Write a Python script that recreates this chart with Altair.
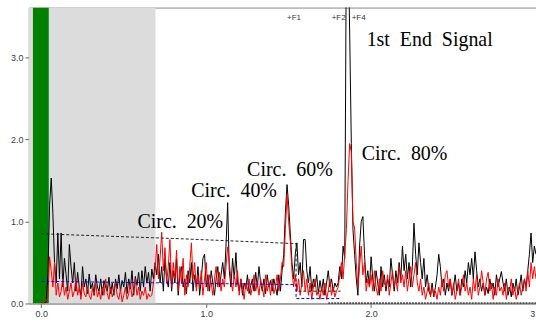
import altair as alt
import pandas as pd

# sample grid (time axis, 0.00 .. 3.00 step 0.01)
x_start = 0.0
x_step = 0.01

black_signal = [
    0.01, 0.01, 0.01, 0.02, 0.35, 1.20, 1.53, 1.10, 0.50, 0.25,
    0.86, 0.30, 0.86, 0.20, 0.55, 0.35, 0.15, 0.72, 0.45, 0.25,
    0.50, 0.15, 0.38, 0.20, 0.10, 0.45, 0.20, 0.30, 0.12, 0.36,
    0.18, 0.25, 0.10, 0.35, 0.20, 0.15, 0.30, 0.10, 0.28, 0.20,
    0.15, 0.32, 0.12, 0.25, 0.10, 0.30, 0.18, 0.35, 0.15, 0.28,
    0.20, 0.38, 0.12, 0.30, 0.18, 0.40, 0.10, 0.33, 0.22, 0.38,
    0.15, 0.40, 0.20, 0.45, 0.25, 0.38, 0.15, 0.42, 0.30, 0.50,
    0.35, 0.60, 0.25, 0.45, 0.15, 0.55, 0.30, 0.20, 0.50, 0.15,
    0.40, 0.25, 0.55, 0.10, 0.35, 0.45, 0.20, 0.30, 0.12, 0.40,
    0.25, 0.50, 0.15, 0.35, 0.20, 0.45, 0.10, 0.30, 0.55, 0.60,
    0.20, 0.35, 0.15, 0.40, 0.25, 0.10, 0.30, 0.45, 0.20, 0.35,
    0.50, 0.30, 0.70, 1.23, 0.40, 0.20, 0.55, 0.30, 0.62, 0.25,
    0.15, 0.30, 0.10, 0.25, 0.18, 0.35, 0.12, 0.22, 0.30, 0.15,
    0.38, 0.20, 0.45, 0.25, 0.15, 0.30, 0.12, 0.35, 0.20, 0.28,
    0.15, 0.30, 0.20, 0.10, 0.35, 0.15, 0.40, 0.60, 1.10, 1.45,
    1.20, 0.85, 0.50, 0.30, 0.60, 0.74, 0.35, 0.50, 0.20, 0.78,
    0.78, 0.40, 0.25, 0.45, 0.15, 0.30, 0.20, 0.35, 0.12, 0.28,
    0.15, 0.30, 0.10, 0.25, 0.40, 0.20, 0.30, 0.15, 0.25, 0.20,
    0.25, 0.45, 0.30, 0.70, 0.55, 4.50, 4.50, 3.30, 1.95, 0.90,
    0.60, 0.30, 0.10, 0.70, 1.00, 1.06, 0.60, 0.25, 0.40, 0.20,
    0.57, 0.30, 0.15, 0.40, 0.25, 0.10, 0.45, 0.20, 0.35, 0.15,
    0.30, 0.20, 0.55, 0.35, 0.15, 0.40, 0.25, 0.50, 0.30, 0.70,
    0.40, 0.60, 0.30, 0.50, 0.20, 0.45, 0.98, 0.60, 0.35, 0.74,
    0.50, 0.30, 0.55, 0.20, 0.35, 0.15, 0.10, 0.25, 0.08, 0.20,
    0.35, 0.60, 0.45, 0.20, 0.30, 0.10, 0.25, 0.15, 0.30, 0.10,
    0.20, 0.35, 0.15, 0.25, 0.10, 0.30, 0.20, 0.40, 0.25, 0.50,
    0.35, 0.55, 0.30, 0.63, 0.40, 0.20, 0.30, 0.15, 0.25, 0.10,
    0.20, 0.12, 0.30, 0.18, 0.25, 0.10, 0.35, 0.20, 0.30, 0.39,
    0.25, 0.15, 0.30, 0.10, 0.20, 0.08, 0.25, 0.15, 0.30, 0.10,
    0.20, 0.35, 0.15, 0.30, 0.20, 0.40, 0.60, 0.86, 0.50, 0.70,
    0.60,
]

red_signal = [
    0.02, 0.01, 0.02, 0.03, 0.08, 0.57, 0.40, 0.20, 0.50, 0.10,
    0.25, 0.08, 0.15, 0.30, 0.10, 0.20, 0.05, 0.15, 0.25, 0.08,
    0.15, 0.30, 0.10, 0.20, 0.05, 0.25, 0.12, 0.08, 0.20, 0.10,
    0.05, 0.18, 0.10, 0.25, 0.08, 0.15, 0.05, 0.20, 0.10, 0.30,
    0.12, 0.05, 0.20, 0.08, 0.15, 0.25, 0.10, 0.05, 0.18, 0.02,
    0.10, 0.20, 0.05, 0.12, 0.25, 0.08, 0.15, 0.30, 0.10, 0.20,
    0.05, 0.15, 0.10, 0.20, 0.05, 0.12, 0.08, 0.10, 0.25, 0.40,
    0.72, 0.30, 0.55, 0.87, 0.40, 0.68, 0.25, 0.45, 0.78, 0.20,
    0.50, 0.30, 0.65, 0.15, 0.45, 0.25, 0.55, 0.10, 0.35, 0.20,
    0.45, 0.74, 0.30, 0.50, 0.15, 0.35, 0.20, 0.40, 0.10, 0.30,
    0.50, 0.15, 0.35, 0.25, 0.10, 0.30, 0.45, 0.20, 0.38, 0.15,
    0.30, 0.20, 0.45, 0.69, 0.50, 0.30, 0.15, 0.35, 0.20, 0.40,
    0.10, 0.30, 0.20, 0.05, 0.25, 0.15, 0.30, 0.10, 0.20, 0.35,
    0.15, 0.25, 0.10, 0.30, 0.20, 0.08, 0.35, 0.15, 0.25, 0.10,
    0.30, 0.12, 0.20, 0.35, 0.15, 0.30, 0.50, 0.45, 0.90, 1.33,
    1.00, 0.75, 0.40, 0.20, 0.35, 0.15, 0.30, 0.10, 0.25, 0.40,
    0.15, 0.30, 0.10, 0.25, 0.05, 0.20, 0.30, 0.10, 0.15, 0.05,
    0.20, 0.10, 0.25, 0.05, 0.15, 0.30, 0.10, 0.20, 0.08, 0.15,
    0.20, 0.35, 0.50, 0.30, 0.60, 0.90, 1.50, 1.95, 1.85, 1.00,
    0.92, 0.50, 0.20, 0.45, 0.70, 0.35, 0.50, 0.15, 0.30, 0.20,
    0.35, 0.15, 0.40, 0.20, 0.10, 0.30, 0.15, 0.40, 0.25, 0.20,
    0.35, 0.10, 0.25, 0.40, 0.20, 0.30, 0.15, 0.45, 0.25, 0.35,
    0.20, 0.40, 0.15, 0.30, 0.45, 0.20, 0.35, 0.50, 0.25, 0.15,
    0.30, 0.10, 0.20, 0.05, 0.15, 0.25, 0.08, 0.20, 0.10, 0.15,
    0.05, 0.20, 0.10, 0.30, 0.15, 0.35, 0.40, 0.20, 0.30, 0.10,
    0.25, 0.05, 0.15, 0.30, 0.10, 0.20, 0.35, 0.15, 0.25, 0.10,
    0.20, 0.05, 0.30, 0.15, 0.35, 0.10, 0.20, 0.40, 0.25, 0.10,
    0.30, 0.38, 0.15, 0.25, 0.05, 0.20, 0.10, 0.30, 0.15, 0.20,
    0.10, 0.25, 0.05, 0.20, 0.15, 0.30, 0.10, 0.20, 0.05, 0.15,
    0.25, 0.10, 0.20, 0.30, 0.15, 0.40, 0.20, 0.50, 0.30, 0.45,
    0.30,
]

# threshold / gate curves
upper_gate_x = [0.0, 0.84, 1.545]
upper_gate_y = [0.85, 0.79, 0.73]
lower_gate_x = [1.545, 1.545, 1.815]
lower_gate_y = [0.73, 0.15, 0.15]
blue_gate_x = [0.0, 1.545, 1.545, 1.815]
blue_gate_y = [0.27, 0.23, 0.06, 0.06]
floor_gate_x = [1.74, 3.0]
floor_gate_y = [0.0, 0.0]

# shaded regions
green_x = [-0.051, 0.045]
gray_x = [-0.0755, 0.692]

# annotations
NB = "\u00a0"
ann_text = ["1st" + NB * 2 + "End" + NB * 2 + "Signal",
            "Circ." + NB * 2 + "80%", "Circ." + NB * 2 + "60%",
            "Circ." + NB * 2 + "40%", "Circ." + NB * 2 + "20%"]
ann_x = [1.973, 1.943, 1.248, 0.909, 0.583]
ann_y = [3.147, 1.75, 1.555, 1.30, 0.923]

marker_text = ["+F1", "+F2", "+F4"]
marker_x = [1.49, 1.761, 1.882]
marker_y = [3.463, 3.463, 3.463]

XMIN, XMAX = -0.0755, 3.0
YMIN, YMAX = 0.0, 3.61

xs = [round(x_start + i * x_step, 2) for i in range(len(black_signal))]
sig_black = pd.DataFrame({"x": xs, "y": black_signal})
sig_red = pd.DataFrame({"x": xs, "y": red_signal})

xscale = alt.Scale(domain=[XMIN, XMAX], nice=False, zero=False)
yscale = alt.Scale(domain=[YMIN, YMAX], nice=False, zero=False)
xaxis = alt.Axis(values=[0, 1, 2, 3], format=".1f", grid=False, tickSize=4,
                 labelFontSize=9, labelFont="Liberation Sans", labelColor="#3a3a46",
                 domainColor="#888", tickColor="#666", title=None, labelPadding=2,
                 labelFlush=False)
yaxis = alt.Axis(values=[0, 1, 2, 3], format=".1f", grid=False, tickSize=4,
                 labelFontSize=9, labelFont="Liberation Sans", labelColor="#3a3a46",
                 domainColor="#888", tickColor="#666", title=None, labelPadding=2)

X = alt.X("x:Q", scale=xscale, axis=xaxis)
Y = alt.Y("y:Q", scale=yscale, axis=yaxis)

gray_band = alt.Chart(pd.DataFrame({"x": [gray_x[0]], "x2": [gray_x[1]], "y": [YMIN], "y2": [YMAX]})).mark_rect(
    color="#dcdcdc", clip=True).encode(x=X, x2="x2:Q", y=Y, y2="y2:Q")
green_band = alt.Chart(pd.DataFrame({"x": [green_x[0]], "x2": [green_x[1]], "y": [YMIN], "y2": [YMAX]})).mark_rect(
    color="#008000", clip=True).encode(x=X, x2="x2:Q", y=Y, y2="y2:Q")

black_line = alt.Chart(sig_black).mark_line(color="#000000", strokeWidth=1, clip=True).encode(x=X, y=Y)
red_line = alt.Chart(sig_red).mark_line(color="#ff0000", strokeWidth=1, clip=True).encode(x=X, y=Y)

def gate(xv, yv, color, dash, width=1):
    df = pd.DataFrame({"x": xv, "y": yv, "o": list(range(len(xv)))})
    return alt.Chart(df).mark_line(color=color, strokeDash=dash, strokeWidth=width, clip=True).encode(
        x=X, y=Y, order="o:Q")

upper = gate(upper_gate_x, upper_gate_y, "#222222", [3, 2])
lower = gate(lower_gate_x, lower_gate_y, "#222222", [3, 2])
blue = gate(blue_gate_x, blue_gate_y, "#0000ff", [3, 2])
floor = gate(floor_gate_x, floor_gate_y, "#000000", [2, 1], 2)

ann = alt.Chart(pd.DataFrame({"x": ann_x, "y": ann_y, "t": ann_text})).mark_text(
    font="Liberation Serif", fontSize=20, align="left", baseline="alphabetic", color="#000000"
).encode(x=X, y=Y, text="t:N")

markers = alt.Chart(pd.DataFrame({"x": marker_x, "y": marker_y, "t": marker_text})).mark_text(
    font="Liberation Sans", fontSize=8, align="left", baseline="alphabetic", color="#333333"
).encode(x=X, y=Y, text="t:N")

chart = alt.layer(
    gray_band, green_band, black_line, red_line, upper, lower, blue, floor, ann, markers
).properties(
    width=509, height=297,
    autosize=alt.AutoSizeParams(type="none"),
    padding={"left": 29, "top": 7, "right": 0, "bottom": 18},
    background="white",
).configure_view(stroke="#888", strokeWidth=1)

chart.save("out.html", embed_options={"renderer": "svg", "actions": False})
